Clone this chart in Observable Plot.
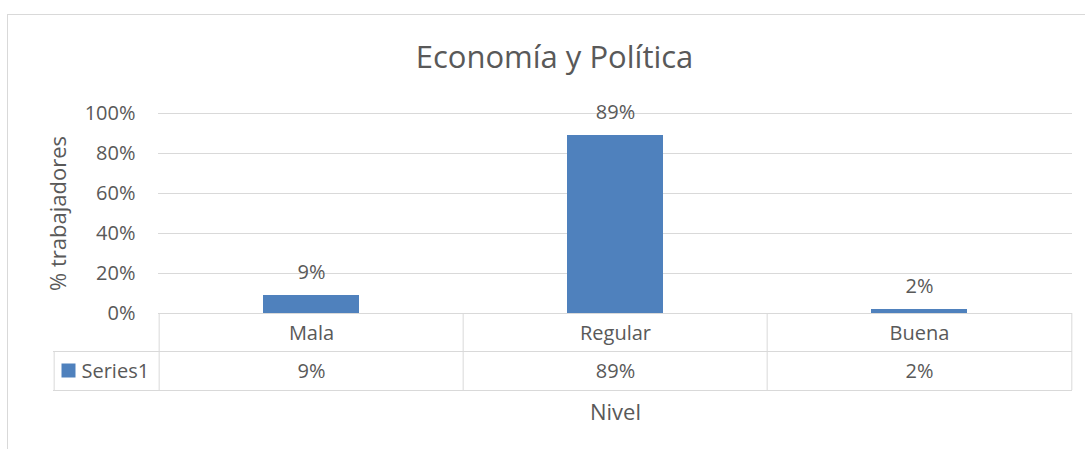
<!DOCTYPE html>
<html>
<head>
<meta charset="utf-8">
<script src="https://cdn.jsdelivr.net/npm/d3@7"></script>
<script src="https://cdn.jsdelivr.net/npm/@observablehq/plot@0.6"></script>
<style>
  html, body { margin: 0; padding: 0; background: #fff; }
</style>
</head>
<body>
<div id="chart"></div>
<script>
const categories = ["Mala", "Regular", "Buena"];
const values = [0.09, 0.89, 0.02];
const seriesName = "Series1";
const yTicks = [0, 0.2, 0.4, 0.6, 0.8, 1];
const chartTitle = "Economía y Política";
const xTitle = "Nivel";
const yTitle = "% trabajadores";

const data = categories.map((c, i) => ({cat: c, value: values[i]}));
const fmt = d3.format(".0%");

const W = 1085, H = 449;
const mL = 158, mR = 13, mT = 113, mB = 136;
const bw = (W - mL - mR) / categories.length;
const grid = "#d9d9d9";
const blue = "#4f81bd";

const chart = Plot.plot({
  width: W,
  height: H,
  marginLeft: mL,
  marginRight: mR,
  marginTop: mT,
  marginBottom: mB,
  style: {fontFamily: "'Open Sans', sans-serif", fontSize: "20px", color: "#595959", background: "#fff"},
  x: {type: "band", domain: categories, padding: 0, axis: null},
  y: {domain: [0, 1], axis: null},
  marks: [
    Plot.frame({stroke: grid, insetLeft: -(mL - 7), insetTop: -(mT - 14), insetRight: -40, insetBottom: -200}),
    Plot.gridY(yTicks, {stroke: grid, strokeOpacity: 1, strokeWidth: 1}),
    Plot.axisY(yTicks, {tickFormat: fmt, tickSize: 0, tickPadding: 23, label: null, fontSize: 20}),
    Plot.barY(data, {x: "cat", y: "value", fill: blue, insetLeft: 104, insetRight: 104}),
    Plot.text(data, {x: "cat", y: "value", text: d => fmt(d.value), dy: -23, fontSize: 20}),
    // data table lines
    Plot.ruleY([0], {stroke: grid, dy: 38, insetLeft: -105}),
    Plot.ruleY([0], {stroke: grid, dy: 77, insetLeft: -105}),
    Plot.ruleX(categories, {x: d => d, dx: -bw / 2, stroke: grid, insetTop: 200, insetBottom: -77}),
    Plot.ruleX([categories[categories.length - 1]], {x: d => d, dx: bw / 2, stroke: grid, insetTop: 200, insetBottom: -77}),
    Plot.ruleX([categories[0]], {x: d => d, dx: -bw / 2 - 105, stroke: grid, insetTop: 238, insetBottom: -77}),
    // data table text
    Plot.text(data, {x: "cat", text: "cat", frameAnchor: "bottom", lineAnchor: "middle", dy: 20, fontSize: 20}),
    Plot.text(data, {x: "cat", text: d => fmt(d.value), frameAnchor: "bottom", lineAnchor: "middle", dy: 58, fontSize: 20}),
    Plot.dot([seriesName], {frameAnchor: "bottom-left", dx: -90, dy: 57, symbol: "square", r: 7.9, fill: blue, stroke: null}),
    Plot.text([seriesName], {text: d => d, frameAnchor: "bottom-left", lineAnchor: "middle", dx: -77, dy: 58, textAnchor: "start", fontSize: 20}),
    // titles
    Plot.text([chartTitle], {text: d => d, frameAnchor: "top", lineAnchor: "middle", dx: -61, dy: -55, fontSize: 31}),
    Plot.text([yTitle], {text: d => d, frameAnchor: "left", textAnchor: "middle", lineAnchor: "middle", rotate: -90, dx: -100, fontSize: 22}),
    Plot.text([xTitle], {text: d => d, frameAnchor: "bottom", lineAnchor: "middle", dy: 99, fontSize: 22})
  ]
});
document.getElementById("chart").appendChild(chart);
</script>
</body>
</html>
